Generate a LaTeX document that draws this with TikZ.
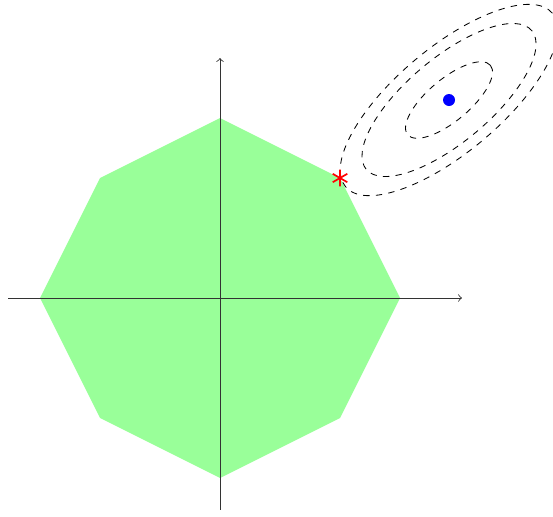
\documentclass[tikz,border=0pt]{standalone}
\usetikzlibrary{plotmarks}
\begin{document}
\begin{tikzpicture}[
  region/.style={fill=green!40, draw=none},
  axis/.style={->, black!80},
  contour/.style={dashed, black},
  optimum/.style={red, line width=0.8pt},
  center/.style={fill=blue}
]
\useasboundingbox (-3.667,-3.65) rectangle (5.55,4.967);
\fill[region] (0,3) -- (2,2) -- (3,0) -- (2,-2) -- (0,-3) -- (-2,-2) -- (-3,0) -- (-2,2) -- cycle;
\draw[axis] (-3.533,0) -- (4.033,0);
\draw[axis] (0,-3.533) -- (0,4);
\coordinate (c) at (3.817,3.3);
\foreach \s in {1,2,2.5}
  \draw[contour, rotate around={40:(c)}] (c) ellipse[x radius=0.9*\s, y radius=0.35*\s];
\fill[center] (c) circle (0.1);
\coordinate (opt) at (2,2);
\draw[optimum] plot[mark=asterisk, mark size=4pt] coordinates {(opt)};
\end{tikzpicture}
\end{document}
